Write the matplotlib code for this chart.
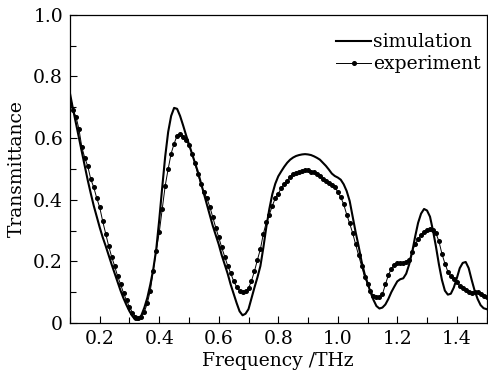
import numpy as np
import matplotlib
matplotlib.use("Agg")
import matplotlib.pyplot as plt
from matplotlib.ticker import MultipleLocator, FixedLocator

plt.rcParams["font.family"] = ["DejaVu Serif"]

# frequency grid (THz), 0.10 ... 1.50 in steps of 0.01
freq = np.round(np.arange(0.10, 1.5001, 0.01), 2)

simulation = [
    0.745, 0.695, 0.648, 0.600, 0.555, 0.508, 0.462, 0.420, 0.380, 0.345,  # 0.10-0.19
    0.310, 0.278, 0.250, 0.220, 0.190, 0.162, 0.135, 0.105, 0.080, 0.058,  # 0.20-0.29
    0.038, 0.022, 0.010, 0.010, 0.025, 0.050, 0.082, 0.125, 0.175, 0.240,  # 0.30-0.39
    0.335, 0.440, 0.540, 0.620, 0.672, 0.698, 0.695, 0.672, 0.642, 0.610,  # 0.40-0.49
    0.580, 0.550, 0.520, 0.490, 0.455, 0.420, 0.385, 0.350, 0.315, 0.285,  # 0.50-0.59
    0.255, 0.220, 0.190, 0.160, 0.125, 0.095, 0.065, 0.038, 0.025, 0.030,  # 0.60-0.69
    0.045, 0.080, 0.115, 0.148, 0.185, 0.245, 0.312, 0.370, 0.418, 0.452,  # 0.70-0.79
    0.476, 0.492, 0.507, 0.520, 0.530, 0.537, 0.542, 0.545, 0.547, 0.548,  # 0.80-0.89
    0.547, 0.545, 0.541, 0.536, 0.530, 0.520, 0.510, 0.498, 0.485, 0.477,  # 0.90-0.99
    0.472, 0.465, 0.450, 0.428, 0.396, 0.345, 0.295, 0.250, 0.200, 0.160,  # 1.00-1.09
    0.130, 0.100, 0.075, 0.055, 0.047, 0.050, 0.060, 0.078, 0.100, 0.118,  # 1.10-1.19
    0.135, 0.142, 0.145, 0.160, 0.190, 0.230, 0.280, 0.325, 0.355, 0.370,  # 1.20-1.29
    0.365, 0.345, 0.300, 0.248, 0.190, 0.140, 0.105, 0.092, 0.095, 0.115,  # 1.30-1.39
    0.145, 0.178, 0.195, 0.198, 0.178, 0.140, 0.105, 0.078, 0.058, 0.048,  # 1.40-1.49
    0.045,                                                                 # 1.50
]

experiment = [
    0.710, 0.690, 0.670, 0.630, 0.570, 0.535, 0.508, 0.466, 0.440, 0.405,  # 0.10-0.19
    0.375, 0.330, 0.290, 0.250, 0.215, 0.185, 0.152, 0.126, 0.097, 0.073,  # 0.20-0.29
    0.052, 0.034, 0.020, 0.015, 0.021, 0.036, 0.065, 0.105, 0.170, 0.235,  # 0.30-0.39
    0.294, 0.370, 0.445, 0.500, 0.550, 0.582, 0.608, 0.612, 0.605, 0.595,  # 0.40-0.49
    0.576, 0.550, 0.518, 0.483, 0.450, 0.425, 0.405, 0.377, 0.343, 0.309,  # 0.50-0.59
    0.278, 0.245, 0.215, 0.186, 0.162, 0.136, 0.117, 0.105, 0.100, 0.103,  # 0.60-0.69
    0.112, 0.137, 0.168, 0.205, 0.240, 0.290, 0.327, 0.352, 0.380, 0.405,  # 0.70-0.79
    0.420, 0.437, 0.452, 0.462, 0.473, 0.482, 0.486, 0.489, 0.492, 0.497,  # 0.80-0.89
    0.495, 0.491, 0.489, 0.485, 0.478, 0.468, 0.460, 0.453, 0.449, 0.442,  # 0.90-0.99
    0.425, 0.408, 0.385, 0.352, 0.323, 0.292, 0.255, 0.220, 0.186, 0.150,  # 1.00-1.09
    0.126, 0.104, 0.088, 0.083, 0.083, 0.093, 0.125, 0.155, 0.176, 0.188,  # 1.10-1.19
    0.194, 0.196, 0.196, 0.197, 0.203, 0.232, 0.255, 0.272, 0.286, 0.295,  # 1.20-1.29
    0.302, 0.304, 0.302, 0.291, 0.265, 0.225, 0.193, 0.167, 0.151, 0.142,  # 1.30-1.39
    0.132, 0.120, 0.112, 0.106, 0.101, 0.097, 0.100, 0.099, 0.094, 0.087,  # 1.40-1.49
    0.083,                                                                 # 1.50
]

x_ticks = [0.2, 0.4, 0.6, 0.8, 1.0, 1.2, 1.4]
x_ticklabels = ["0.2", "0.4", "0.6", "0.8", "1.0", "1.2", "1.4"]
y_ticks = [0, 0.2, 0.4, 0.6, 0.8, 1.0]
y_ticklabels = ["0", "0.2", "0.4", "0.6", "0.8", "1.0"]

fig = plt.figure(figsize=(4.88, 3.71), dpi=100)
ax = fig.add_axes([0.1434, 0.1294, 0.8536, 0.8306])

ax.plot(freq, simulation, color="black", lw=1.5, label="simulation")
ax.plot(freq, experiment, color="black", lw=0.7, marker="o", ms=2.6,
        label="experiment")

ax.set_xlim(0.1, 1.5)
ax.set_ylim(0, 1.0)
ax.xaxis.set_major_locator(FixedLocator(x_ticks))
ax.set_xticklabels(x_ticklabels)
ax.xaxis.set_minor_locator(MultipleLocator(0.1))
ax.yaxis.set_major_locator(FixedLocator(y_ticks))
ax.set_yticklabels(y_ticklabels)
ax.yaxis.set_minor_locator(MultipleLocator(0.1))
ax.tick_params(which="both", direction="in", top=False, right=False,
               labelsize=13.5, width=0.8)
ax.tick_params(which="major", length=5, pad=5)
ax.tick_params(which="minor", length=4)
for s in ax.spines.values():
    s.set_linewidth(0.9)

ax.set_xlabel("Frequency /THz", fontsize=13.5, labelpad=3)
ax.set_ylabel("Transmittance", fontsize=13.5, labelpad=5)

ax.legend(loc="upper right", bbox_to_anchor=(1.0, 0.958), frameon=False,
          fontsize=13.5, handlelength=1.9, handletextpad=0.1,
          labelspacing=0.2, borderaxespad=0, borderpad=0.3)

fig.savefig("out.png", dpi=100)
